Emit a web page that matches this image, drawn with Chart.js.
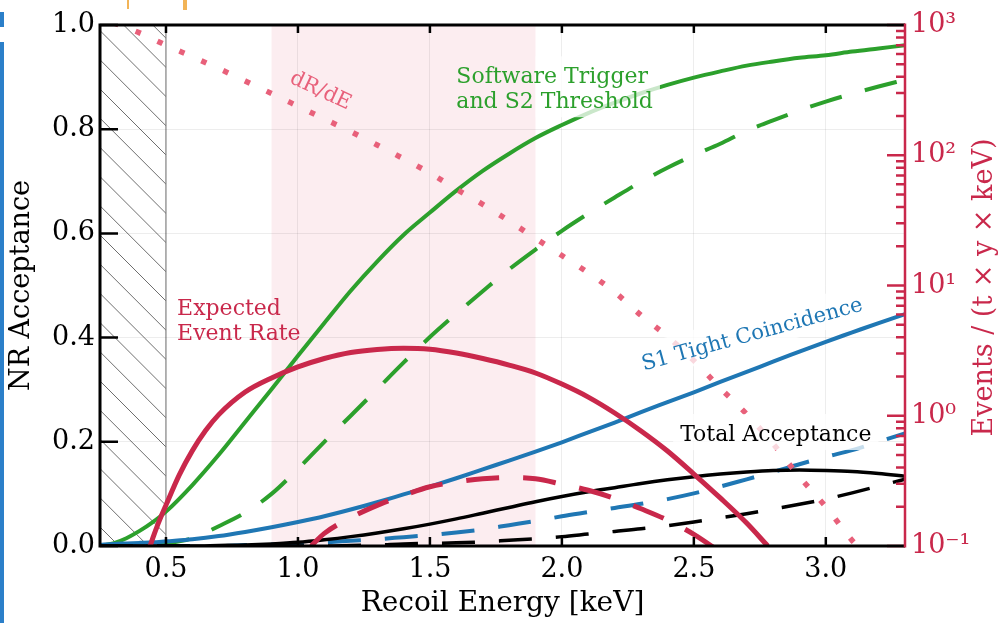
<!DOCTYPE html>
<html>
<head>
<meta charset="utf-8">
<script src="https://cdn.jsdelivr.net/npm/chart.js@4.4.1/dist/chart.umd.min.js"></script>
<style>
  html, body { margin: 0; padding: 0; background: #fff; }
  #wrap { position: relative; width: 999px; height: 623px; }
  .bar { position: absolute; left: 0; width: 4px; background: #2b7fc9; }
  .blip { position: absolute; top: 0; background: #f2b457; }
</style>
</head>
<body>
<div id="wrap">
  <canvas id="chart" width="999" height="623"></canvas>
  <div class="bar" style="top:12px;height:15px"></div>
  <div class="bar" style="top:42px;height:581px"></div>
  <div class="blip" style="left:127px;width:2px;height:9px"></div>
  <div class="blip" style="left:183px;width:4px;height:10px"></div>
</div>
<script>
// energy grid for the acceptance curves (keV)
const energy = [0.25, 0.3, 0.35, 0.4, 0.45, 0.5, 0.6, 0.7, 0.8, 0.9, 1.0, 1.1, 1.2, 1.3, 1.4, 1.5, 1.6,
    1.7, 1.8, 1.9, 2.0, 2.1, 2.2, 2.3, 2.4, 2.5, 2.6, 2.7, 2.8, 2.9, 3.0, 3.1, 3.2, 3.3];

// acceptance curves (solid = full, dashed = second variant)
const triggerAcc = [0, 0.005, 0.015, 0.029, 0.046, 0.066, 0.117, 0.175, 0.238, 0.301, 0.365, 0.428, 0.49,
    0.546, 0.597, 0.64, 0.682, 0.72, 0.753, 0.783, 0.808, 0.831, 0.851, 0.869, 0.885, 0.899, 0.911, 0.922,
    0.93, 0.937, 0.942, 0.949, 0.955, 0.961];
const triggerAccAlt = [0, 0, 0, 0.001, 0.002, 0.005, 0.015, 0.038, 0.064, 0.10, 0.148, 0.2, 0.25, 0.301,
    0.352, 0.401, 0.446, 0.489, 0.531, 0.569, 0.605, 0.638, 0.669, 0.699, 0.726, 0.75, 0.772, 0.797, 0.817,
    0.836, 0.853, 0.868, 0.882, 0.895];
const s1Acc = [0.002, 0.004, 0.005, 0.006, 0.007, 0.009, 0.013, 0.019, 0.027, 0.036, 0.046, 0.057, 0.07,
    0.084, 0.099, 0.114, 0.13, 0.147, 0.164, 0.181, 0.199, 0.218, 0.237, 0.257, 0.276, 0.295, 0.315, 0.334,
    0.354, 0.373, 0.392, 0.41, 0.428, 0.445];
const s1AccAlt = [0, 0, 0, 0, 0, 0, 0, 0, 0.002, 0.003, 0.005, 0.007, 0.01, 0.013, 0.017, 0.021, 0.026, 0.032,
    0.04, 0.048, 0.057, 0.065, 0.073, 0.081, 0.09, 0.101, 0.114, 0.128, 0.142, 0.157, 0.171, 0.184, 0.2, 0.216];
const totalAcc = [0, 0, 0, 0, 0, 0, 0, 0.001, 0.002, 0.004, 0.007, 0.012, 0.018, 0.025, 0.033, 0.042, 0.052,
    0.063, 0.074, 0.085, 0.095, 0.104, 0.112, 0.12, 0.127, 0.133, 0.138, 0.142, 0.145, 0.146, 0.145, 0.143,
    0.139, 0.134];
const totalAccAlt = [0, 0, 0, 0, 0, 0, 0, 0, 0, 0, 0, 0, 0.001, 0.002, 0.004, 0.005, 0.006, 0.008, 0.011,
    0.014, 0.018, 0.023, 0.028, 0.033, 0.039, 0.046, 0.054, 0.062, 0.071, 0.08, 0.09, 0.102, 0.115, 0.128];

// event rates, right axis (events / (t x y x keV))
const rateE = [0.44, 0.45, 0.47, 0.5, 0.55, 0.6, 0.65, 0.7, 0.8, 0.9, 1.0, 1.1, 1.2, 1.3, 1.4, 1.5, 1.6, 1.7,
    1.8, 1.9, 2.0, 2.1, 2.2, 2.3, 2.4, 2.5, 2.6, 2.7, 2.78];
const rateVals = [0.1, 0.115, 0.148, 0.206, 0.35, 0.54, 0.77, 1.02, 1.52, 1.95, 2.37, 2.75, 3.06, 3.23,
    3.3, 3.24, 3.03, 2.75, 2.45, 2.13, 1.75, 1.39, 1.05, 0.764, 0.536, 0.357, 0.234, 0.15, 0.1];
const rateAltE = [1.05, 1.1, 1.2, 1.3, 1.4, 1.5, 1.6, 1.7, 1.8, 1.9, 2.0, 2.1, 2.2, 2.3, 2.4, 2.5, 2.6];
const rateAltVals = [0.1, 0.125, 0.165, 0.205, 0.245, 0.285, 0.31, 0.328, 0.335, 0.328, 0.298, 0.268, 0.232,
    0.193, 0.158, 0.123, 0.09];
const spectrumE = [0.3, 0.4, 0.5, 0.6, 0.7, 0.8, 0.9, 1.0, 1.1, 1.2, 1.3, 1.4, 1.5, 1.6, 1.7, 1.8, 1.9, 2.0,
    2.1, 2.2, 2.3, 2.4, 2.5, 2.6, 2.7, 2.8, 2.9, 3.0, 3.1, 3.12];
const spectrumVals = [1040, 870, 700, 571, 463, 372, 298, 238, 190, 152, 120, 94, 73, 55, 42, 31.3, 23, 17,
    12.5, 8.9, 5.9, 4.06, 2.65, 1.63, 1.03, 0.61, 0.34, 0.2, 0.11, 0.1];

// axes
const xTicks = [0.5, 1.0, 1.5, 2.0, 2.5, 3.0];
const yTicks = [0, 0.2, 0.4, 0.6, 0.8, 1.0];
const y2Ticks = [0.1, 1, 10, 100, 1000];
const y2TickLabels = ['10\u207B\u00B9', '10\u2070', '10\u00B9', '10\u00B2', '10\u00B3'];
const bandRange = [0.9, 1.9];
const thresholdE = 0.5;

const GREEN = '#2ca02c', BLUE = '#1f77b4', RED = '#c9284b', PINK = '#e8607a';
const SERIF = "'DejaVu Serif', serif";

const pts = (xs, ys) => xs.map((x, i) => ({ x: x, y: ys[i] }));

function line(data, color, width, axis, dash) {
    return {
        data: data,
        yAxisID: axis,
        borderColor: color,
        borderWidth: width,
        borderDash: dash || [],
        borderCapStyle: 'butt',
        pointRadius: 0,
        fill: false,
        cubicInterpolationMode: 'monotone'
    };
}

const DASH = [33, 24];

// text annotations; some get a translucent white box (kept off the shaded band)
function drawLabel(chart, lines, px, py, opts) {
    const { ctx, chartArea: a, scales: { x } } = chart;
    const setup = () => {
        ctx.translate(px, py);
        ctx.rotate((opts.angle || 0) * Math.PI / 180);
        ctx.font = opts.size + 'px ' + SERIF;
        ctx.textBaseline = 'alphabetic';
        ctx.textAlign = 'left';
    };
    const lh = opts.size * 1.13;
    if (opts.box) {
        ctx.save();
        const b0 = x.getPixelForValue(bandRange[0]), b1 = x.getPixelForValue(bandRange[1]);
        ctx.beginPath();
        ctx.rect(a.left, a.top, b0 - a.left, a.bottom - a.top);
        ctx.rect(b1, a.top, a.right - b1, a.bottom - a.top);
        ctx.clip();
        setup();
        const w = Math.max(...lines.map(l => ctx.measureText(l).width));
        ctx.fillStyle = 'rgba(255,255,255,0.75)';
        ctx.fillRect(-7, -opts.size - 5, w + 14, lh * (lines.length - 1) + opts.size + 14);
        ctx.restore();
    }
    ctx.save();
    setup();
    ctx.fillStyle = opts.color;
    lines.forEach((l, i) => ctx.fillText(l, 0, i * lh));
    ctx.restore();
}

const decor = {
    id: 'decor',
    beforeDraw(chart) {
        const { ctx, chartArea: a, scales: { x } } = chart;
        ctx.save();
        // shaded energy window
        const b0 = x.getPixelForValue(bandRange[0]), b1 = x.getPixelForValue(bandRange[1]);
        ctx.fillStyle = '#fcedf0';
        ctx.fillRect(b0, a.top, b1 - b0, a.bottom - a.top);
        // hatched region below threshold
        const h = x.getPixelForValue(thresholdE);
        ctx.beginPath();
        ctx.rect(a.left, a.top, h - a.left, a.bottom - a.top);
        ctx.clip();
        ctx.strokeStyle = '#6e6e6e';
        ctx.lineWidth = 1;
        ctx.beginPath();
        for (let k = -100; k < 560; k += 29.2) {
            ctx.moveTo(a.left, a.top + 18 + k);
            ctx.lineTo(a.left + 200, a.top + 18 + k + 200);
        }
        ctx.stroke();
        ctx.restore();
        ctx.save();
        ctx.strokeStyle = '#8a8a8a';
        ctx.lineWidth = 1.2;
        ctx.beginPath();
        ctx.moveTo(h, a.top);
        ctx.lineTo(h, a.bottom);
        ctx.stroke();
        ctx.restore();
    },
    afterDatasetsDraw(chart) {
        const { ctx, chartArea: a, scales: { x, y, y2 } } = chart;

        drawLabel(chart, ['Software Trigger', 'and S2 Threshold'], x.getPixelForValue(1.6), y.getPixelForValue(0.888),
            { size: 22, color: GREEN, box: true });
        drawLabel(chart, ['Expected', 'Event Rate'], x.getPixelForValue(0.542), y.getPixelForValue(0.443),
            { size: 22, color: RED });
        drawLabel(chart, ['Total Acceptance'], x.getPixelForValue(2.448), y.getPixelForValue(0.2015),
            { size: 22, color: '#000', box: true });
        drawLabel(chart, ['S1 Tight Coincidence'], x.getPixelForValue(2.31), y.getPixelForValue(0.337),
            { size: 21, color: BLUE, box: true, angle: -15.3 });
        drawLabel(chart, ['dR/dE'], x.getPixelForValue(0.965), y.getPixelForValue(0.89),
            { size: 21, color: PINK, angle: 25 });

        ctx.save();
        // inward ticks
        ctx.strokeStyle = '#000';
        ctx.lineWidth = 2.5;
        ctx.beginPath();
        xTicks.forEach(v => {
            const p = x.getPixelForValue(v);
            ctx.moveTo(p, a.bottom); ctx.lineTo(p, a.bottom - 9);
            ctx.moveTo(p, a.top); ctx.lineTo(p, a.top + 8);
        });
        yTicks.forEach(v => {
            const p = y.getPixelForValue(v);
            ctx.moveTo(a.left, p); ctx.lineTo(a.left + 18, p);
        });
        ctx.stroke();
        ctx.strokeStyle = RED;
        ctx.beginPath();
        for (let d = -1; d < 3; d++) {
            for (let m = 1; m < 10; m++) {
                const p = y2.getPixelForValue(m * Math.pow(10, d));
                ctx.moveTo(a.right, p); ctx.lineTo(a.right - (m === 1 ? 18 : 9), p);
            }
        }
        const top = y2.getPixelForValue(1000);
        ctx.moveTo(a.right, top); ctx.lineTo(a.right - 18, top);
        ctx.stroke();

        // frame
        ctx.lineWidth = 3;
        ctx.strokeStyle = '#000';
        ctx.beginPath();
        ctx.moveTo(a.right, a.top); ctx.lineTo(a.left, a.top);
        ctx.lineTo(a.left, a.bottom); ctx.lineTo(a.right, a.bottom);
        ctx.stroke();
        ctx.strokeStyle = RED;
        ctx.lineWidth = 2.5;
        ctx.beginPath();
        ctx.moveTo(a.right, a.top - 1.5); ctx.lineTo(a.right, a.bottom + 1.5);
        ctx.stroke();

        // right axis title, reading bottom to top
        ctx.translate(985, (a.top + a.bottom) / 2 + 2);
        ctx.rotate(-Math.PI / 2);
        ctx.font = '27px ' + SERIF;
        ctx.fillStyle = RED;
        ctx.textAlign = 'center';
        ctx.textBaseline = 'middle';
        ctx.fillText('Events / (t \u00D7 y \u00D7 keV)', 0, 0);
        ctx.restore();
    }
};

const ctx = document.getElementById('chart').getContext('2d');
const chart = new Chart(ctx, {
    type: 'line',
    data: {
        datasets: [
            line(pts(rateE, rateVals), RED, 5, 'y2'),
            line(pts(rateAltE, rateAltVals), RED, 5, 'y2', DASH),
            line(pts(spectrumE, spectrumVals), PINK, 5.5, 'y2', [5.5, 18.5]),
            line(pts(energy, totalAcc), '#000', 3.5, 'y'),
            line(pts(energy, totalAccAlt), '#000', 3.5, 'y', DASH),
            line(pts(energy, s1Acc), BLUE, 4, 'y'),
            line(pts(energy, s1AccAlt), BLUE, 4, 'y', DASH),
            line(pts(energy, triggerAcc), GREEN, 4, 'y'),
            line(pts(energy, triggerAccAlt), GREEN, 4, 'y', DASH)
        ]
    },
    options: {
        responsive: false,
        animation: false,
        events: [],
        layout: { padding: { top: 25 } },
        plugins: {
            legend: { display: false },
            tooltip: { enabled: false }
        },
        scales: {
            x: {
                type: 'linear',
                min: 0.25,
                max: 3.3,
                afterBuildTicks: s => { s.ticks = xTicks.map(v => ({ value: v })); },
                afterFit: s => { s.height = 77; },
                grid: { color: 'rgba(0,0,0,0.07)', drawTicks: false },
                border: { display: false },
                ticks: {
                    color: '#000',
                    padding: 8,
                    maxRotation: 0,
                    font: { family: SERIF, size: 27 },
                    callback: v => v.toFixed(1)
                },
                title: {
                    display: true,
                    text: 'Recoil Energy [keV]',
                    color: '#000',
                    font: { family: SERIF, size: 28 },
                    padding: { bottom: 2 }
                }
            },
            y: {
                position: 'left',
                min: 0,
                max: 1,
                afterBuildTicks: s => { s.ticks = yTicks.map(v => ({ value: v })); },
                afterFit: s => { s.width = 100; },
                grid: { color: 'rgba(0,0,0,0.07)', drawTicks: false },
                border: { display: false },
                ticks: {
                    color: '#000',
                    padding: 5,
                    font: { family: SERIF, size: 27 },
                    callback: v => v.toFixed(1)
                },
                title: {
                    display: true,
                    text: 'NR Acceptance',
                    color: '#000',
                    font: { family: SERIF, size: 27 },
                    padding: { top: 6 }
                }
            },
            y2: {
                type: 'logarithmic',
                position: 'right',
                min: 0.1,
                max: 1000,
                afterBuildTicks: s => { s.ticks = y2Ticks.map(v => ({ value: v })); },
                afterFit: s => { s.width = 94; },
                grid: { display: false, drawTicks: false },
                border: { display: false },
                ticks: {
                    color: RED,
                    padding: 6,
                    font: { family: SERIF, size: 27 },
                    callback: (v) => y2TickLabels[y2Ticks.indexOf(v)] ?? ''
                }
            }
        }
    },
    plugins: [decor]
});
</script>
</body>
</html>
